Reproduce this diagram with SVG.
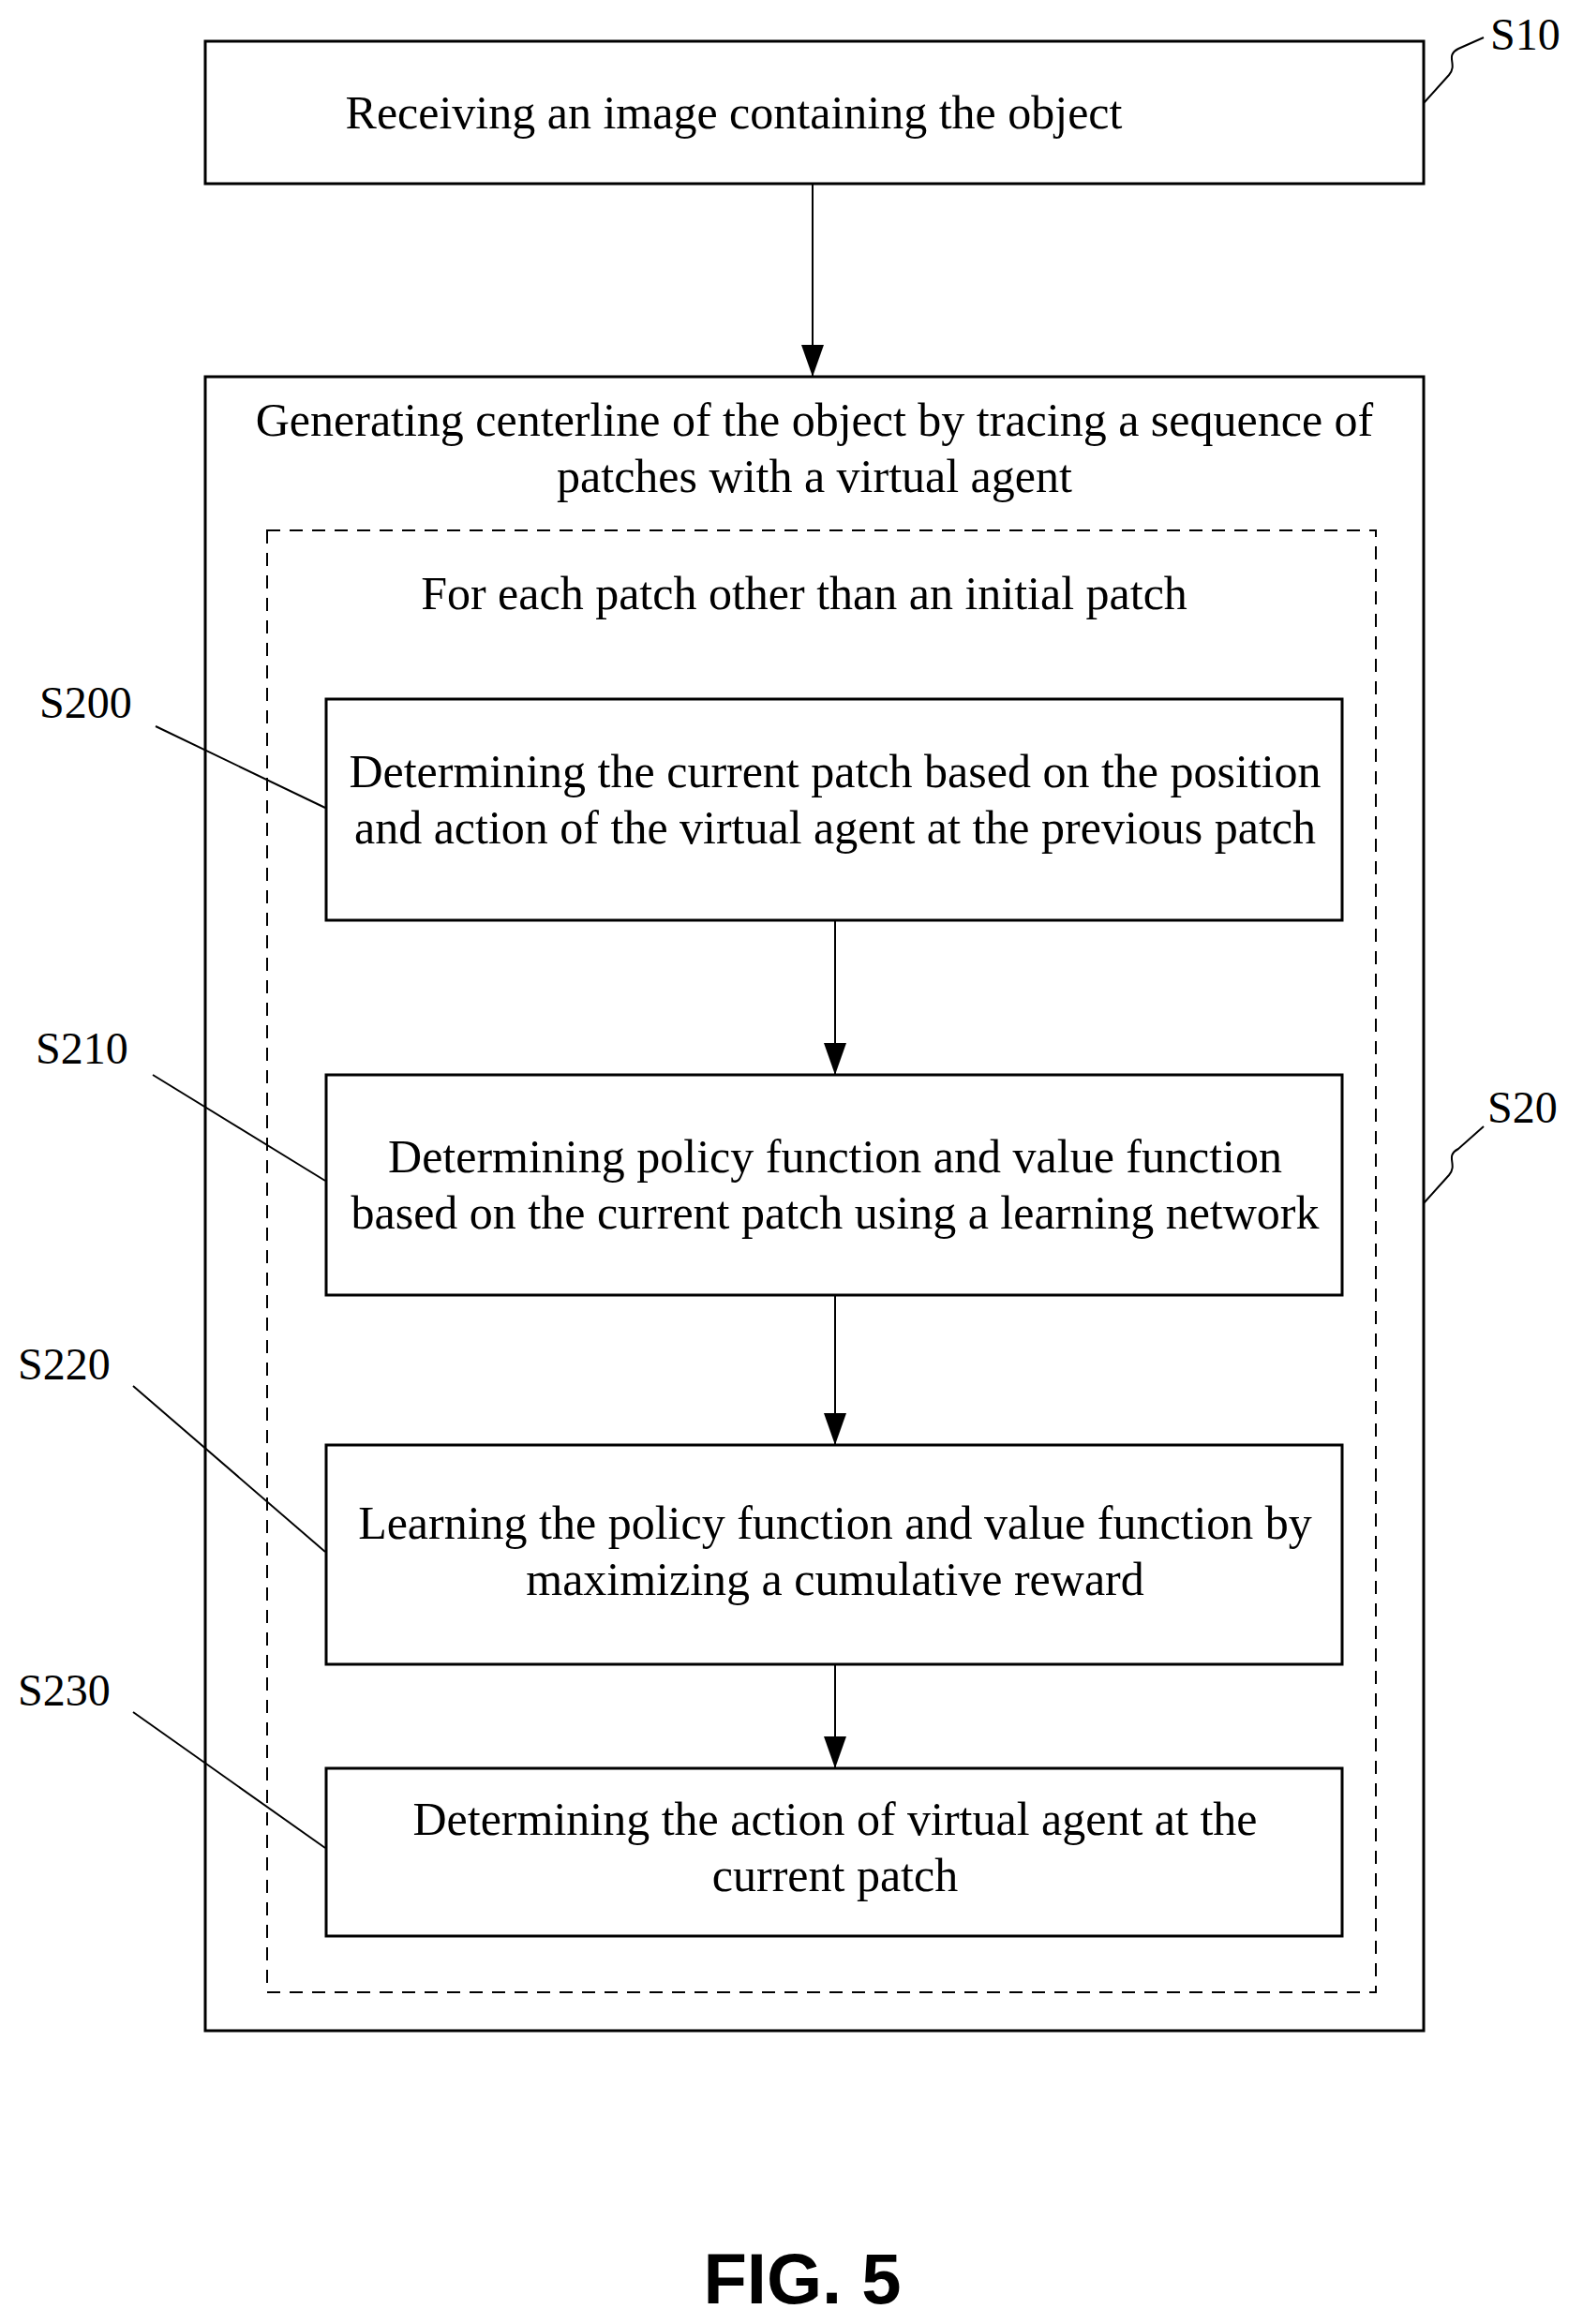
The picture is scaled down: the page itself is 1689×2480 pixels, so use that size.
<svg xmlns="http://www.w3.org/2000/svg" width="1689" height="2480" viewBox="0 0 1689 2480">
<defs>
<style>
.t{font-family:"Liberation Serif","Times New Roman",serif;font-size:50px;fill:#000;text-anchor:middle}
.l{font-family:"Liberation Serif","Times New Roman",serif;font-size:48px;fill:#000}
.b{fill:#fff;stroke:#000;stroke-width:3}
.c{stroke:#000;stroke-width:2;fill:none}
</style>
<marker id="ah" markerWidth="34" markerHeight="24" refX="34" refY="12" orient="auto" markerUnits="userSpaceOnUse"><path d="M0,0 L34,12 L0,24 Z" fill="#000"/></marker>
</defs>
<rect width="1689" height="2480" fill="#fff"/>
<g id="S10"><rect class="b" x="219" y="44" width="1300" height="152"/><text class="t" x="783" y="137">Receiving an image containing the object</text></g>
<g id="S20"><rect class="b" x="219" y="402" width="1300" height="1765"/><text class="t" x="869" y="465">Generating centerline of the object by tracing a sequence of</text><text class="t" x="869" y="525">patches with a virtual agent</text></g>
<g id="loop"><rect x="285" y="566" width="1183" height="1560" fill="none" stroke="#000" stroke-width="2" stroke-dasharray="14,10"/><text class="t" x="858" y="650">For each patch other than an initial patch</text></g>
<g id="S200"><rect class="b" x="348" y="746" width="1084" height="236"/><text class="t" x="891" y="840">Determining the current patch based on the position</text><text class="t" x="891" y="900">and action of the virtual agent at the previous patch</text></g>
<g id="S210"><rect class="b" x="348" y="1147" width="1084" height="235"/><text class="t" x="891" y="1251">Determining policy function and value function</text><text class="t" x="891" y="1311">based on the current patch using a learning network</text></g>
<g id="S220"><rect class="b" x="348" y="1542" width="1084" height="234"/><text class="t" x="891" y="1642">Learning the policy function and value function by</text><text class="t" x="891" y="1702">maximizing a cumulative reward</text></g>
<g id="S230"><rect class="b" x="348" y="1887" width="1084" height="179"/><text class="t" x="891" y="1958">Determining the action of virtual agent at the</text><text class="t" x="891" y="2018">current patch</text></g>
<g id="connectors">
<line class="c" x1="867" y1="196" x2="867" y2="402" marker-end="url(#ah)"/>
<line class="c" x1="891" y1="982" x2="891" y2="1147" marker-end="url(#ah)"/>
<line class="c" x1="891" y1="1382" x2="891" y2="1542" marker-end="url(#ah)"/>
<line class="c" x1="891" y1="1776" x2="891" y2="1887" marker-end="url(#ah)"/>
<path class="c" d="M1519,110 L1546,80 C1556,68 1541,60 1556,52 L1583,40"/>
<path class="c" d="M1519,1284 L1546,1254 C1556,1242 1541,1234 1556,1226 L1583,1202"/>
<line class="c" x1="166" y1="775" x2="347" y2="862"/>
<line class="c" x1="163" y1="1147" x2="347" y2="1260"/>
<line class="c" x1="142" y1="1479" x2="347" y2="1656"/>
<line class="c" x1="142" y1="1827" x2="347" y2="1972"/>
</g>
<g id="labels">
<text class="l" x="1590" y="53">S10</text>
<text class="l" x="1587" y="1198">S20</text>
<text class="l" x="42" y="766">S200</text>
<text class="l" x="38" y="1135">S210</text>
<text class="l" x="19" y="1472">S220</text>
<text class="l" x="19" y="1820">S230</text>
<text x="856" y="2458" text-anchor="middle" style="font-family:'Liberation Sans',Arial,sans-serif;font-weight:bold;font-size:76px">FIG. 5</text>
</g>
</svg>
